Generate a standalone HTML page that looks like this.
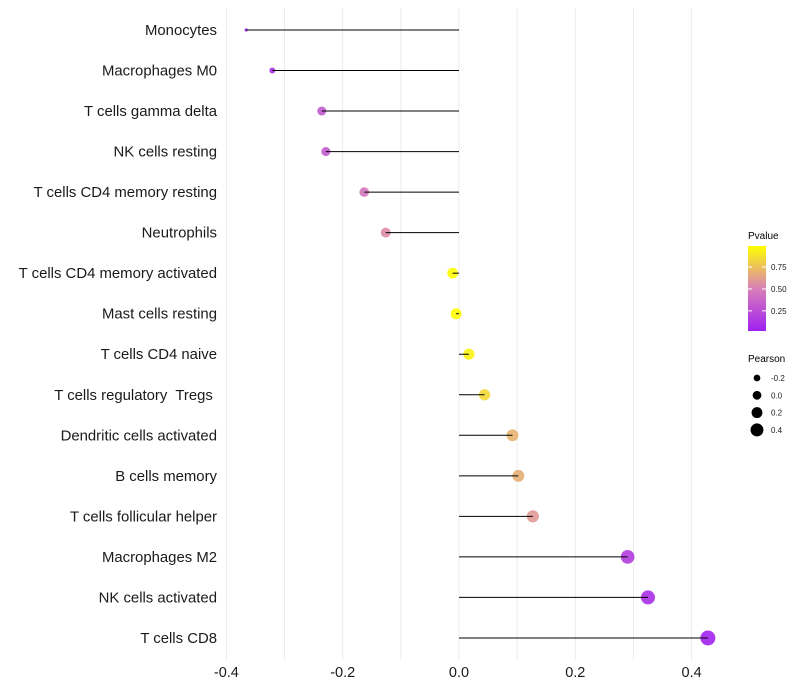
<!DOCTYPE html>
<html><head><meta charset="utf-8">
<style>
html,body{margin:0;padding:0;background:#fff;}
svg{display:block;font-family:"Liberation Sans",sans-serif;}
#ylabels text{white-space:pre;}
</style></head>
<body>
<svg id="chart" width="800" height="700" viewBox="0 0 800 700" xmlns="http://www.w3.org/2000/svg">
<defs>
<linearGradient id="pgrad" x1="0" y1="1" x2="0" y2="0">
<stop offset="0" stop-color="#a020f0"/>
<stop offset="0.5" stop-color="#d880b8"/>
<stop offset="1" stop-color="#ffff00"/>
</linearGradient>
</defs>
<g id="grid"></g>
<g id="marks"></g>
<g id="ylabels"></g>
<g id="xlabels"></g>
<g>
<text x="748" y="239" font-size="10" fill="#000">Pvalue</text>
<rect x="748" y="246" width="18" height="85" fill="url(#pgrad)"/>
<g id="cbticks"></g>
</g>
<g id="sizeleg">
<text x="748" y="362" font-size="10" fill="#000">Pearson</text>
</g>
</svg>
<script>
const categories = ["Monocytes","Macrophages M0","T cells gamma delta","NK cells resting","T cells CD4 memory resting","Neutrophils","T cells CD4 memory activated","Mast cells resting","T cells CD4 naive","T cells regulatory  Tregs ","Dendritic cells activated","B cells memory","T cells follicular helper","Macrophages M2","NK cells activated","T cells CD8"];
const pearson = [-0.366,-0.321,-0.236,-0.229,-0.163,-0.126,-0.011,-0.005,0.017,0.044,0.092,0.102,0.127,0.290,0.325,0.428];
const pvalue = [0.03,0.08,0.3,0.3,0.45,0.55,0.99,0.99,0.95,0.85,0.7,0.68,0.6,0.15,0.08,0.02];
const xTicks = [-0.4,-0.2,0.0,0.2,0.4];
const xTickLabels = ["-0.4","-0.2","0.0","0.2","0.4"];
const gridVals = [-0.4,-0.3,-0.2,-0.1,0.0,0.1,0.2,0.3,0.4];
const pTicks = [0.25,0.5,0.75];
const pTickLabels = ["0.25","0.50","0.75"];
const sizeLegVals = [-0.2,0.0,0.2,0.4];
const sizeLegLabels = ["-0.2","0.0","0.2","0.4"];

const NS="http://www.w3.org/2000/svg";
const x = v => 459 + v*581.5;
const y = i => 30 + i*40.53;
const rk=[[-0.37,1.5],[-0.32,3.0],[-0.236,4.5],[0,5.5],[0.43,7.5]];
function r(v){
  if(v<=rk[0][0]) return rk[0][1];
  for(let k=1;k<rk.length;k++){ if(v<=rk[k][0]){const a=rk[k-1],b=rk[k];return a[1]+(b[1]-a[1])*(v-a[0])/(b[0]-a[0]);} }
  const a=rk[rk.length-2],b=rk[rk.length-1];return b[1]+(b[1]-a[1])*(v-b[0])/(b[0]-a[0]);
}
const pY = p => 331 - (p-0.02)/0.97*85;
function lerp(a,b,t){return a.map((c,k)=>Math.round(c+(b[k]-c)*t));}
function col(p){
  const s=[160,32,240], m=[216,128,184], e=[255,255,0];
  const c = p<0.5 ? lerp(s,m,p/0.5) : lerp(m,e,(p-0.5)/0.5);
  return `rgb(${c[0]},${c[1]},${c[2]})`;
}
function mk(tag, attrs, parent){const el=document.createElementNS(NS,tag);for(const k in attrs)el.setAttribute(k,attrs[k]);parent.appendChild(el);return el;}

const grid=document.getElementById('grid');
gridVals.forEach(v=>{
  const l=mk('line',{x1:x(v),x2:x(v),y1:8,y2:660,stroke:'#ebebeb','stroke-width':1},grid);
  
  
});
const marks=document.getElementById('marks');
const yl=document.getElementById('ylabels');
categories.forEach((c,i)=>{
  const d=mk('circle',{cx:x(pearson[i]),cy:y(i),r:r(pearson[i]),fill:col(pvalue[i]),'fill-opacity':0.9},marks);
  
  
  const s=mk('line',{x1:x(0),x2:x(pearson[i]),y1:y(i),y2:y(i),stroke:'#000','stroke-width':1},marks);
  
  
  const t=mk('text',{x:217,y:y(i)+5,'text-anchor':'end','font-size':14.9,fill:'#1a1a1a'},yl);
  t.textContent=c;
  
  
});
const xl=document.getElementById('xlabels');
xTicks.forEach((v,i)=>{
  const t=mk('text',{x:x(v),y:677,'text-anchor':'middle','font-size':14.5,fill:'#1a1a1a'},xl);
  t.textContent=xTickLabels[i];
  
  
});
const cb=document.getElementById('cbticks');
pTicks.forEach((p,i)=>{
  const a=mk('line',{x1:748,x2:752,y1:pY(p),y2:pY(p),stroke:'#fff','stroke-width':1},cb);
  
  
  const b=mk('line',{x1:762,x2:766,y1:pY(p),y2:pY(p),stroke:'#fff','stroke-width':1},cb);
  
  
  const t=mk('text',{x:771,y:pY(p)+3,'font-size':8,fill:'#1a1a1a'},cb);
  t.textContent=pTickLabels[i];
  
  
});
const sl=document.getElementById('sizeleg');
sizeLegVals.forEach((v,i)=>{
  const yy=378+i*17.3;
  const c=mk('circle',{cx:757,cy:yy,r:4.4+5.2*v,fill:'#000'},sl);
  
  
  const t=mk('text',{x:771,y:yy+3,'font-size':8,fill:'#1a1a1a'},sl);
  t.textContent=sizeLegLabels[i];
  
  
});
</script>
</body></html>
